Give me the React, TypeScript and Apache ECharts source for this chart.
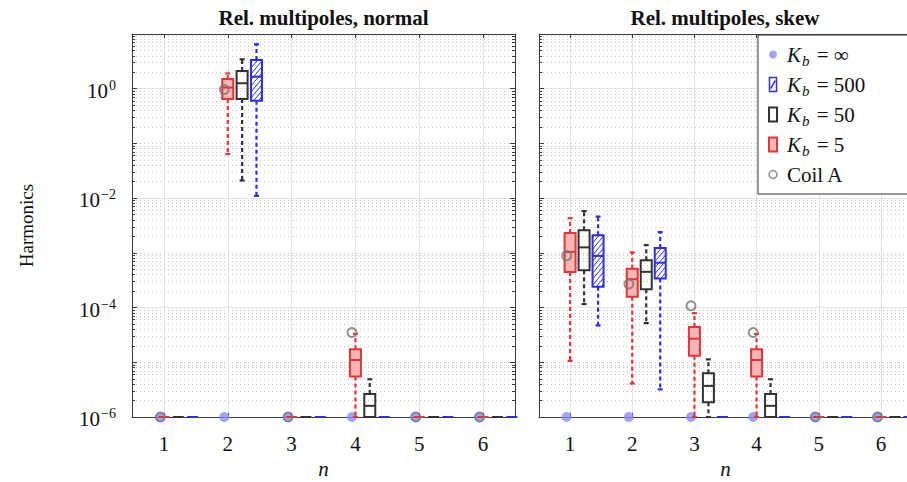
import { useEffect, useRef } from "react";
import * as echarts from "echarts";

// ---------- data ----------
const N = [1, 2, 3, 4, 5, 6];
const Z = 1e-6; // values at the axis floor

// each entry: [min, q1, median, q3, max] for n = 1..6
const normalKb5 = [
  [Z, Z, Z, Z, Z],
  [0.064, 0.65, 1.05, 1.5, 1.9],
  [Z, Z, Z, Z, Z],
  [Z, 5.5e-6, 1.1e-5, 1.73e-5, 3.3e-5],
  [Z, Z, Z, Z, Z],
  [Z, Z, Z, Z, Z],
];
const normalKb50 = [
  [Z, Z, Z, Z, Z],
  [0.021, 0.65, 1.26, 2.1, 3.45],
  [Z, Z, Z, Z, Z],
  [Z, Z, 1.6e-6, 2.63e-6, 4.9e-6],
  [Z, Z, Z, Z, Z],
  [Z, Z, Z, Z, Z],
];
const normalKb500 = [
  [Z, Z, Z, Z, Z],
  [0.011, 0.6, 1.66, 3.35, 6.5],
  [Z, Z, Z, Z, Z],
  [Z, Z, Z, Z, Z],
  [Z, Z, Z, Z, Z],
  [Z, Z, Z, Z, Z],
];
const skewKb5 = [
  [1.06e-5, 4.47e-4, 1.04e-3, 2.3e-3, 4.3e-3],
  [4.1e-6, 1.58e-4, 3.3e-4, 5.1e-4, 1.02e-3],
  [Z, 1.32e-5, 2.7e-5, 4.4e-5, 7.9e-5],
  [Z, 5.5e-6, 1.1e-5, 1.73e-5, 3.3e-5],
  [Z, Z, Z, Z, Z],
  [Z, Z, Z, Z, Z],
];
const skewKb50 = [
  [1.16e-4, 4.8e-4, 1.26e-3, 2.6e-3, 5.8e-3],
  [5.2e-5, 2.16e-4, 4.5e-4, 7.3e-4, 1.39e-3],
  [Z, 1.86e-6, 3.7e-6, 6.3e-6, 1.13e-5],
  [Z, Z, 1.6e-6, 2.63e-6, 4.9e-6],
  [Z, Z, Z, Z, Z],
  [Z, Z, Z, Z, Z],
];
const skewKb500 = [
  [4.7e-5, 2.4e-4, 8.8e-4, 2.1e-3, 4.6e-3],
  [3.2e-6, 3.4e-4, 6.6e-4, 1.23e-3, 2.4e-3],
  [Z, Z, Z, Z, Z],
  [Z, Z, Z, Z, Z],
  [Z, Z, Z, Z, Z],
  [Z, Z, Z, Z, Z],
];
const normalInf = [Z, Z, Z, Z, Z, Z];
const skewInf = [Z, Z, Z, Z, Z, Z];
const normalCoilA = [Z, 0.97, Z, 3.5e-5, Z, Z];
const skewCoilA = [8.9e-4, 2.7e-4, 1.08e-4, 3.5e-5, Z, Z];

const legendNames = ["K_b = ∞", "K_b = 500", "K_b = 50", "K_b = 5", "Coil A"];
const titles = ["Rel. multipoles, normal", "Rel. multipoles, skew"];

// ---------- styles ----------
const FONT = "'Liberation Serif', 'DejaVu Serif', serif";
const AXIS_COLOR = "#3a3a3a";
const RED = "#e53535";
const RED_FILL = "#f5b6b6";
const BLACK = "#333333";
const BLUE = "#2e2ee6";
const INF_COLOR = "#8c8cf7";
const GRAY = "#777777";
const DODGE = { point: -0.055, kb5: 0, kb50: 0.225, kb500: 0.45 };

function boxRenderer(stroke: string, fill: string, hatch: boolean) {
  return (_params: any, api: any) => {
    const x = api.value(0);
    const p = [1, 2, 3, 4, 5].map((i) => api.coord([x, api.value(i)]));
    const cx = p[0][0];
    const yMin = p[0][1];
    const yQ1 = p[1][1];
    const yMed = p[2][1];
    const yQ3 = p[3][1];
    const yMax = p[4][1];
    const hw = 5.5;
    const children: any[] = [];
    const dash = { stroke, lineWidth: 2.2, lineDash: [4, 3], fill: null };
    const cap = { stroke, lineWidth: 2.2, fill: null };
    if (yQ3 - yMax > 0.5) {
      children.push({ type: "line", shape: { x1: cx, y1: yQ3, x2: cx, y2: yMax }, style: dash });
      children.push({ type: "line", shape: { x1: cx - 2.5, y1: yMax, x2: cx + 2.5, y2: yMax }, style: cap });
    }
    if (yMin - yQ1 > 0.5) {
      children.push({ type: "line", shape: { x1: cx, y1: yQ1, x2: cx, y2: yMin }, style: dash });
      children.push({ type: "line", shape: { x1: cx - 2.5, y1: yMin, x2: cx + 2.5, y2: yMin }, style: cap });
    }
    const h = yQ1 - yQ3;
    children.push({
      type: "rect",
      shape: { x: cx - hw, y: yQ3, width: 2 * hw, height: h },
      style: { fill, stroke: null },
    });
    if (hatch && h > 3) {
      const k = 1.2;
      const x0 = cx - hw;
      const w = 2 * hw;
      for (let c = yQ3 + 2; c < yQ1 + k * w; c += 6) {
        const t0 = Math.max(0, (c - yQ1) / k);
        const t1 = Math.min(w, (c - yQ3) / k);
        if (t1 > t0) {
          children.push({
            type: "line",
            shape: { x1: x0 + t0, y1: c - k * t0, x2: x0 + t1, y2: c - k * t1 },
            style: { stroke, lineWidth: 1, fill: null },
          });
        }
      }
    }
    children.push({
      type: "rect",
      shape: { x: cx - hw, y: yQ3, width: 2 * hw, height: h },
      style: { fill: null, stroke, lineWidth: 2 },
    });
    if (h > 1) {
      children.push({
        type: "line",
        shape: { x1: cx - hw, y1: yMed, x2: cx + hw, y2: yMed },
        style: { stroke, lineWidth: 2, fill: null },
      });
    }
    return { type: "group", children };
  };
}

function boxSeries(name: string, stats: number[][], off: number, axisIdx: number, stroke: string, fill: string, hatch: boolean) {
  return {
    type: "custom",
    name,
    xAxisIndex: axisIdx,
    yAxisIndex: axisIdx,
    data: stats.map((s, i) => [N[i] + off, ...s]),
    encode: { x: 0, y: [1, 2, 3, 4, 5] },
    renderItem: boxRenderer(stroke, fill, hatch),
    itemStyle: { color: stroke },
    clip: false,
    silent: true,
    z: 3,
  };
}

function pointSeries(name: string, values: number[], axisIdx: number, style: any, size: number, z: number) {
  return {
    type: "scatter",
    name,
    xAxisIndex: axisIdx,
    yAxisIndex: axisIdx,
    data: values.map((v, i) => [N[i] + DODGE.point, v]),
    symbol: "circle",
    symbolSize: size,
    itemStyle: style,
    clip: false,
    silent: true,
    z,
  };
}

function xAxes(gridIndex: number) {
  const base = { type: "value", gridIndex, min: 0.5, max: 6.5, splitNumber: 6, minInterval: 1, maxInterval: 1 };
  const line = { show: true, onZero: false, lineStyle: { color: AXIS_COLOR, width: 1 } };
  const tick = { show: true, inside: true, length: 4, lineStyle: { color: AXIS_COLOR } };
  return [
    {
      ...base,
      position: "bottom",
      axisLine: line,
      axisTick: tick,
      axisLabel: {
        show: true,
        margin: 16,
        fontFamily: FONT,
        fontSize: 21,
        color: "#111",
        showMinLabel: false,
        showMaxLabel: false,
        formatter: (v: number) => (Number.isInteger(v) ? String(v) : ""),
      },
      splitLine: { show: true, lineStyle: { color: "#e3e3e3", width: 1 } },
      name: "n",
      nameLocation: "middle",
      nameGap: 40,
      nameTextStyle: { fontFamily: FONT, fontSize: 21, fontStyle: "italic", color: "#111" },
    },
    {
      ...base,
      position: "top",
      axisLine: line,
      axisTick: tick,
      axisLabel: { show: false },
      splitLine: { show: false },
    },
  ];
}

function yLabel(v: number) {
  const e = Math.round(Math.log10(v));
  if (e > 0 || e % 2 !== 0) return "";
  return `{b|10}{p|${e === 0 ? "0" : "\u2212" + -e}}`;
}

function yAxes(gridIndex: number, withName: boolean) {
  const base = { type: "log", logBase: 10, gridIndex, min: 1e-6, max: 10 };
  const line = { show: true, onZero: false, lineStyle: { color: AXIS_COLOR, width: 1 } };
  const tick = { show: true, inside: true, length: 5, lineStyle: { color: AXIS_COLOR } };
  const minor = { show: true, splitNumber: 9, length: 3, lineStyle: { color: AXIS_COLOR } };
  const dotted = { color: "#c4c4c4", width: 1, type: [1, 3] };
  return [
    {
      ...base,
      position: "left",
      axisLine: line,
      axisTick: tick,
      minorTick: minor,
      axisLabel: {
        show: withName,
        margin: 16,
        color: "#111",
        fontFamily: FONT,
        formatter: yLabel,
        rich: {
          b: { fontFamily: FONT, fontSize: 21, color: "#111", verticalAlign: "top", padding: [4, 0, 0, 0], height: 21, lineHeight: 25 },
          p: { fontFamily: FONT, fontSize: 14, color: "#111", verticalAlign: "top", padding: [2, 0, 0, 1], height: 14, lineHeight: 25 },
        },
      },
      splitLine: { show: true, lineStyle: dotted },
      minorSplitLine: { show: true, lineStyle: dotted },
      name: withName ? "Harmonics" : "",
      nameLocation: "middle",
      nameGap: 96,
      nameTextStyle: { fontFamily: FONT, fontSize: 19, color: "#111" },
    },
    {
      ...base,
      position: "right",
      axisLine: line,
      axisTick: tick,
      minorTick: minor,
      axisLabel: { show: false },
      splitLine: { show: true, lineStyle: { color: ["#e3e3e3", "rgba(0,0,0,0)"], width: 1 } },
    },
  ];
}

function legendFormatter(name: string) {
  if (name.startsWith("K_b")) return `{k|K}{s|b}{t| = ${name.slice(6)}}`;
  return `{t|${name}}`;
}

export default function App() {
  const ref = useRef<HTMLDivElement>(null);
  useEffect(() => {
    if (!ref.current) return;
    const chart = echarts.init(ref.current, null, { renderer: "svg" });
    const xs = [...xAxes(0), ...xAxes(1)];
    const ys = [...yAxes(0, true), ...yAxes(1, false)];
    // axis index 0 -> left panel, 2 -> right panel (1 and 3 are the frame axes)
    const series = [
      pointSeries(legendNames[0], normalInf, 0, { color: INF_COLOR }, 10, 2),
      boxSeries(legendNames[3], normalKb5, DODGE.kb5, 0, RED, RED_FILL, false),
      boxSeries(legendNames[2], normalKb50, DODGE.kb50, 0, BLACK, "rgba(0,0,0,0)", false),
      boxSeries(legendNames[1], normalKb500, DODGE.kb500, 0, BLUE, "rgba(0,0,0,0)", true),
      pointSeries(legendNames[4], normalCoilA, 0, { color: "rgba(0,0,0,0)", borderColor: GRAY, borderWidth: 2 }, 9, 4),
      pointSeries(legendNames[0], skewInf, 2, { color: INF_COLOR }, 10, 2),
      boxSeries(legendNames[3], skewKb5, DODGE.kb5, 2, RED, RED_FILL, false),
      boxSeries(legendNames[2], skewKb50, DODGE.kb50, 2, BLACK, "rgba(0,0,0,0)", false),
      boxSeries(legendNames[1], skewKb500, DODGE.kb500, 2, BLUE, "rgba(0,0,0,0)", true),
      pointSeries(legendNames[4], skewCoilA, 2, { color: "rgba(0,0,0,0)", borderColor: GRAY, borderWidth: 2 }, 9, 4),
    ];
    const textRich = {
      t: { fontFamily: FONT, fontSize: 21, color: "#111", verticalAlign: "top", height: 20, lineHeight: 20 },
      k: { fontFamily: FONT, fontSize: 21, fontStyle: "italic", color: "#111", verticalAlign: "top", height: 20, lineHeight: 20, padding: [0, 1, 0, 0] },
      s: { fontFamily: FONT, fontSize: 15, fontStyle: "italic", color: "#111", verticalAlign: "top", height: 14, lineHeight: 20, padding: [9, 2, 0, 0] },
    };
    chart.setOption({
      animation: false,
      backgroundColor: "#ffffff",
      grid: [
        { left: 132, top: 34, width: 383, height: 383, outerBoundsMode: "none" },
        { left: 539, top: 34, width: 373, height: 383, outerBoundsMode: "none" },
      ],
      xAxis: xs,
      yAxis: ys,
      legend: {
        orient: "vertical",
        left: 758,
        top: 35,
        padding: [9, 60, 9, 10],
        itemWidth: 8,
        itemHeight: 14,
        itemGap: 6,
        backgroundColor: "#ffffff",
        borderColor: "#333333",
        borderWidth: 1,
        borderRadius: 0,
        selectedMode: false,
        formatter: legendFormatter,
        textStyle: { fontFamily: FONT, fontSize: 21, color: "#111", lineHeight: 20, padding: [0, 0, 0, 5], rich: textRich },
        data: [
          { name: legendNames[0], icon: "circle", itemStyle: { color: INF_COLOR, borderWidth: 0 } },
          { name: legendNames[1], icon: "path://M0,0H8V16H0Z M1.5,12.5L6.5,3.5", itemStyle: { color: "rgba(0,0,0,0)", borderColor: BLUE, borderWidth: 1.5 } },
          { name: legendNames[2], icon: "rect", itemStyle: { color: "#ffffff", borderColor: BLACK, borderWidth: 2 } },
          { name: legendNames[3], icon: "rect", itemStyle: { color: RED_FILL, borderColor: RED, borderWidth: 2 } },
          { name: legendNames[4], icon: "circle", itemStyle: { color: "rgba(0,0,0,0)", borderColor: GRAY, borderWidth: 1.5 } },
        ],
      },
      graphic: [
        { type: "text", x: 323.5, y: 18, style: { text: titles[0], font: `bold 21px ${FONT}`, fill: "#111", align: "center", verticalAlign: "middle" } },
        { type: "text", x: 725, y: 18, style: { text: titles[1], font: `bold 21px ${FONT}`, fill: "#111", align: "center", verticalAlign: "middle" } },
      ],
      series,
    });
    return () => chart.dispose();
  }, []);
  return <div ref={ref} style={{ position: "absolute", left: 0, top: 0, width: 907, height: 482 }} />;
}
